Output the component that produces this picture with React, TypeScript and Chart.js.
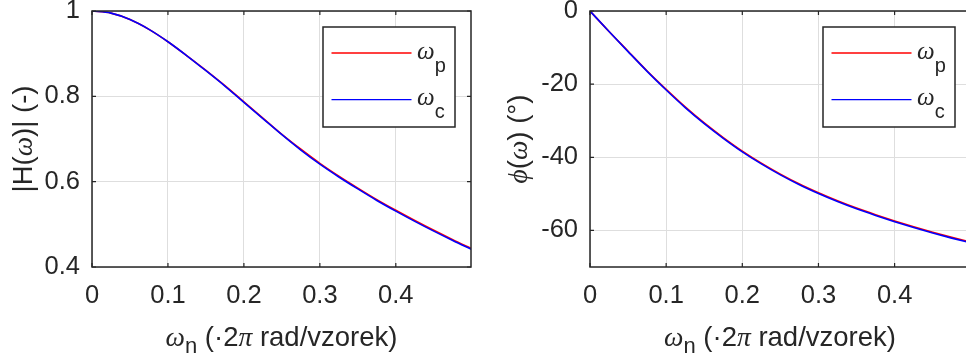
import { useEffect, useRef } from "react";
import { Chart, registerables } from "chart.js";

Chart.register(...registerables);

// Normalised frequency samples (×2π rad/vzorek)
const omegaN = [
  0, 0.025, 0.05, 0.075, 0.1, 0.125, 0.15, 0.175, 0.2, 0.225, 0.25,
  0.275, 0.3, 0.325, 0.35, 0.375, 0.4, 0.425, 0.45, 0.475, 0.5,
];

// |H(ω)| for the two designs
const magP = [
  1.0, 0.995, 0.98, 0.957, 0.928, 0.895, 0.861, 0.825, 0.787, 0.749, 0.711,
  0.676, 0.643, 0.613, 0.585, 0.558, 0.533, 0.509, 0.486, 0.464, 0.443,
];
const magC = [
  1.0, 0.995, 0.98, 0.957, 0.928, 0.895, 0.86, 0.824, 0.786, 0.748, 0.71,
  0.674, 0.641, 0.611, 0.583, 0.556, 0.531, 0.507, 0.484, 0.462, 0.441,
];

// φ(ω) in degrees
const phaseP = [
  0, -5.6, -11.0, -16.4, -21.4, -26.2, -30.6, -34.6, -38.3, -41.6, -44.6,
  -47.3, -49.7, -51.9, -53.9, -55.7, -57.4, -59.0, -60.5, -61.9, -63.2,
];
const phaseC = [
  0, -5.6, -11.1, -16.5, -21.6, -26.4, -30.8, -34.8, -38.5, -41.8, -44.8,
  -47.5, -49.9, -52.1, -54.1, -55.9, -57.6, -59.2, -60.7, -62.1, -63.4,
];

const seriesNames = ["ω", "ω"];
const seriesSubs = ["p", "c"];

const INK = "#262626";
const GRID = "#dedede";
const RED = "#ff0000";
const BLUE = "#0000ff";
const SANS = '"Liberation Sans", Arial, Helvetica, sans-serif';
const SERIF = '"Liberation Serif", "Times New Roman", serif';

type Run = { t: string; font: string; dy?: number };

const sans = (s: number) => `${s}px ${SANS}`;
const ital = (s: number) => `italic ${s}px ${SERIF}`;

function runsWidth(ctx: CanvasRenderingContext2D, runs: Run[]) {
  let w = 0;
  for (const r of runs) {
    ctx.font = r.font;
    w += ctx.measureText(r.t).width;
  }
  return w;
}

function drawRuns(ctx: CanvasRenderingContext2D, runs: Run[], x: number, y: number) {
  let cx = x;
  for (const r of runs) {
    ctx.font = r.font;
    ctx.fillText(r.t, cx, y + (r.dy || 0));
    cx += ctx.measureText(r.t).width;
  }
}

const LABEL = 27.5;

const xLabelRuns: Run[] = [
  { t: "ω", font: ital(LABEL) },
  { t: "n", font: sans(22), dy: 7 },
  { t: " (·2", font: sans(LABEL) },
  { t: "π", font: ital(LABEL) },
  { t: " rad/vzorek)", font: sans(LABEL) },
];

function decor(yRuns: Run[], yBaseline: number, legendRight: number) {
  return {
    id: "decor",
    afterDraw(chart: any) {
      const ctx: CanvasRenderingContext2D = chart.ctx;
      const a = chart.chartArea;
      const xs = chart.scales.x;
      const ys = chart.scales.y;
      ctx.save();

      // axes box
      ctx.strokeStyle = INK;
      ctx.lineWidth = 1.5;
      ctx.strokeRect(a.left, a.top, a.right - a.left, a.bottom - a.top);

      // inward tick marks on all four sides
      ctx.lineWidth = 1.2;
      ctx.beginPath();
      for (const t of xs.ticks) {
        const px = xs.getPixelForValue(t.value);
        ctx.moveTo(px, a.bottom);
        ctx.lineTo(px, a.bottom - 4);
        ctx.moveTo(px, a.top);
        ctx.lineTo(px, a.top + 4);
      }
      for (const t of ys.ticks) {
        const py = ys.getPixelForValue(t.value);
        ctx.moveTo(a.left, py);
        ctx.lineTo(a.left + 4, py);
        ctx.moveTo(a.right, py);
        ctx.lineTo(a.right - 4, py);
      }
      ctx.stroke();

      ctx.fillStyle = INK;
      ctx.textBaseline = "alphabetic";
      ctx.textAlign = "left";

      // x axis title
      const xw = runsWidth(ctx, xLabelRuns);
      drawRuns(ctx, xLabelRuns, (a.left + a.right) / 2 - xw / 2, 346);

      // y axis title (rotated)
      const yw = runsWidth(ctx, yRuns);
      ctx.save();
      ctx.translate(yBaseline, (a.top + a.bottom) / 2);
      ctx.rotate(-Math.PI / 2);
      drawRuns(ctx, yRuns, -yw / 2, 0);
      ctx.restore();

      // legend
      const bw = 132;
      const bh = 100;
      const bx = a.right - legendRight - bw;
      const by = a.top + 16;
      ctx.fillStyle = "#ffffff";
      ctx.fillRect(bx, by, bw, bh);
      ctx.strokeStyle = INK;
      ctx.lineWidth = 1.5;
      ctx.strokeRect(bx, by, bw, bh);
      const rows = [
        { color: RED, y: by + 26 },
        { color: BLUE, y: by + 72.6 },
      ];
      rows.forEach((r, i) => {
        ctx.strokeStyle = r.color;
        ctx.lineWidth = 1.3;
        ctx.beginPath();
        ctx.moveTo(bx + 8.5, r.y);
        ctx.lineTo(bx + 88.5, r.y);
        ctx.stroke();
        ctx.fillStyle = INK;
        drawRuns(
          ctx,
          [
            { t: seriesNames[i], font: ital(25) },
            { t: seriesSubs[i], font: sans(20), dy: 13 },
          ],
          bx + 94,
          r.y + 5.5
        );
      });

      ctx.restore();
    },
  };
}

const fmt = (v: number) => String(Math.round(v * 10) / 10);

function makeConfig(opts: {
  p: number[];
  c: number[];
  yMin: number;
  yMax: number;
  yStep: number;
  yAxisWidth: number;
  padRight: number;
  yRuns: Run[];
  yBaseline: number;
  legendRight: number;
}): any {
  const pts = (vals: number[]) => omegaN.map((x, i) => ({ x, y: vals[i] }));
  const tickFont = { family: SANS, size: 25.5 };
  return {
    type: "line",
    data: {
      datasets: [
        {
          label: "ωc",
          data: pts(opts.c),
          borderColor: BLUE,
          borderWidth: 1.6,
          pointRadius: 0,
          cubicInterpolationMode: "monotone",
          order: 0,
        },
        {
          label: "ωp",
          data: pts(opts.p),
          borderColor: RED,
          borderWidth: 1.6,
          pointRadius: 0,
          cubicInterpolationMode: "monotone",
          order: 1,
        },
      ],
    },
    options: {
      responsive: false,
      animation: false,
      devicePixelRatio: 1,
      events: [],
      layout: { padding: { left: 0, top: 11, right: opts.padRight, bottom: 0 } },
      plugins: { legend: { display: false }, tooltip: { enabled: false } },
      scales: {
        x: {
          type: "linear",
          min: 0,
          max: 0.499,
          afterFit: (s: any) => {
            s.height = 92;
            s.paddingLeft = 0;
            s.paddingRight = 0;
          },
          grid: { color: GRID, lineWidth: 1, drawTicks: false },
          border: { display: false },
          ticks: {
            stepSize: 0.1,
            includeBounds: false,
            padding: 14,
            color: INK,
            font: tickFont,
            maxRotation: 0,
            autoSkip: false,
            callback: (v: number) => fmt(v),
          },
        },
        y: {
          type: "linear",
          min: opts.yMin,
          max: opts.yMax,
          afterFit: (s: any) => {
            s.width = opts.yAxisWidth;
            s.paddingTop = 0;
            s.paddingBottom = 0;
          },
          grid: { color: GRID, lineWidth: 1, drawTicks: false },
          border: { display: false },
          ticks: {
            stepSize: opts.yStep,
            includeBounds: false,
            padding: 12,
            color: INK,
            font: tickFont,
            autoSkip: false,
            callback: (v: number) => fmt(v),
          },
        },
      },
    },
    plugins: [decor(opts.yRuns, opts.yBaseline, opts.legendRight)],
  };
}

export default function App() {
  const magRef = useRef<HTMLCanvasElement>(null);
  const phaseRef = useRef<HTMLCanvasElement>(null);

  useEffect(() => {
    const magChart = new Chart(
      magRef.current!,
      makeConfig({
        p: magP,
        c: magC,
        yMin: 0.4,
        yMax: 1,
        yStep: 0.2,
        yAxisWidth: 92,
        padRight: 9,
        yRuns: [
          { t: "|H(", font: sans(LABEL) },
          { t: "ω", font: ital(LABEL) },
          { t: ")| (-)", font: sans(LABEL) },
        ],
        yBaseline: 32,
        legendRight: 16,
      })
    );
    const phaseChart = new Chart(
      phaseRef.current!,
      makeConfig({
        p: phaseP,
        c: phaseC,
        yMin: -70,
        yMax: 0,
        yStep: 20,
        yAxisWidth: 110,
        padRight: 10,
        yRuns: [
          { t: "ϕ", font: ital(LABEL) },
          { t: "(", font: sans(LABEL) },
          { t: "ω", font: ital(LABEL) },
          { t: ") (°)", font: sans(LABEL) },
        ],
        yBaseline: 47,
        legendRight: 15,
      })
    );
    return () => {
      magChart.destroy();
      phaseChart.destroy();
    };
  }, []);

  return (
    <div
      style={{
        position: "fixed",
        left: 0,
        top: 0,
        width: 966,
        height: 359,
        overflow: "hidden",
        background: "#ffffff",
      }}
    >
      <canvas
        ref={magRef}
        width={480}
        height={359}
        style={{ position: "absolute", left: 0, top: 0 }}
      />
      <canvas
        ref={phaseRef}
        width={500}
        height={359}
        style={{ position: "absolute", left: 480, top: 0 }}
      />
    </div>
  );
}
